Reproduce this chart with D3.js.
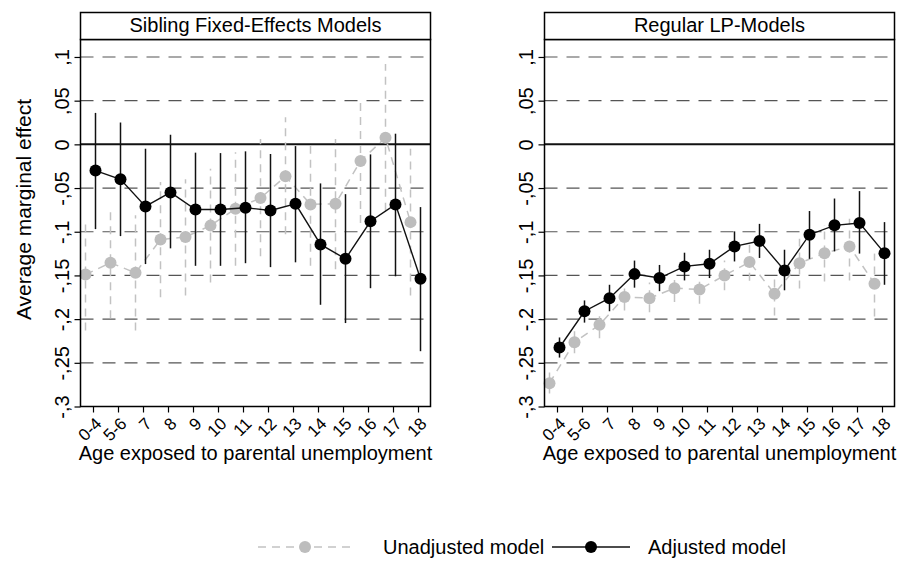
<!DOCTYPE html>
<html>
<head>
<meta charset="utf-8">
<script src="https://cdn.jsdelivr.net/npm/d3@7"></script>
<style>
  body { margin: 0; background: #fff; }
  svg { display: block; font-family: "Liberation Sans", Arial, sans-serif; }
</style>
</head>
<body>
<svg id="chart" width="900" height="587"></svg>
<script>
const categories = ["0-4", "5-6", "7", "8", "9", "10", "11", "12", "13", "14", "15", "16", "17", "18"];
const yTicks = [-0.3, -0.25, -0.2, -0.15, -0.1, -0.05, 0, 0.05, 0.1];
const yTickLabels = ["-,3", "-,25", "-,2", "-,15", "-,1", "-,05", "0", ",05", ",1"];
const panelTitles = ["Sibling Fixed-Effects Models", "Regular LP-Models"];
const seriesNames = ["Unadjusted model", "Adjusted model"];

// sibling fixed-effects, adjusted
const sibAdj   = [-0.030, -0.040, -0.071, -0.055, -0.0745, -0.0745, -0.0725, -0.0756, -0.068, -0.1145, -0.131, -0.088, -0.0687, -0.1538];
const sibAdjLo = [-0.097, -0.105, -0.137, -0.119, -0.139, -0.139, -0.136, -0.1405, -0.135, -0.1836, -0.2045, -0.1646, -0.151, -0.2367];
const sibAdjHi = [0.036, 0.025, -0.005, 0.011, -0.0095, -0.010, -0.008, -0.011, -0.002, -0.0447, -0.057, -0.0115, 0.0122, -0.0718];

// sibling fixed-effects, unadjusted
const sibUnadj   = [-0.149, -0.1355, -0.147, -0.109, -0.106, -0.093, -0.0737, -0.0615, -0.0366, -0.0687, -0.068, -0.019, 0.0077, -0.089];
const sibUnadjLo = [-0.213, -0.199, -0.213, -0.175, -0.173, -0.158, -0.139, -0.128, -0.103, -0.139, -0.143, -0.090, -0.076, -0.173];
const sibUnadjHi = [-0.089, -0.074, -0.081, -0.043, -0.040, -0.028, -0.009, 0.006, 0.031, 0.002, 0.006, 0.052, 0.092, -0.005];

// regular LP, adjusted
const lpAdj   = [-0.2325, -0.191, -0.176, -0.1485, -0.153, -0.1397, -0.1366, -0.1168, -0.1107, -0.1443, -0.1034, -0.0927, -0.090, -0.1245];
const lpAdjLo = [-0.244, -0.204, -0.191, -0.164, -0.168, -0.1557, -0.153, -0.134, -0.130, -0.167, -0.131, -0.1225, -0.125, -0.1607];
const lpAdjHi = [-0.221, -0.1786, -0.1607, -0.133, -0.138, -0.124, -0.1206, -0.0996, -0.091, -0.1206, -0.0763, -0.062, -0.0535, -0.089];

// regular LP, unadjusted
const lpUnadj   = [-0.2733, -0.2264, -0.2065, -0.1748, -0.176, -0.1646, -0.166, -0.150, -0.1347, -0.171, -0.136, -0.1245, -0.1168, -0.1595];
const lpUnadjLo = [-0.285, -0.239, -0.222, -0.190, -0.192, -0.1805, -0.1824, -0.167, -0.156, -0.196, -0.165, -0.157, -0.1557, -0.197];
const lpUnadjHi = [-0.261, -0.214, -0.190, -0.1614, -0.158, -0.150, -0.150, -0.133, -0.112, -0.153, -0.108, -0.0927, -0.085, -0.125];

const toRows = (est, lo, hi) => categories.map((c, i) => ({ cat: c, est: est[i], lo: lo[i], hi: hi[i] }));

const panels = [
  { title: panelTitles[0], left: 80.5, yTitle: true,
    unadj: toRows(sibUnadj, sibUnadjLo, sibUnadjHi), adj: toRows(sibAdj, sibAdjLo, sibAdjHi) },
  { title: panelTitles[1], left: 544.5, yTitle: false,
    unadj: toRows(lpUnadj, lpUnadjLo, lpUnadjHi), adj: toRows(lpAdj, lpAdjLo, lpAdjHi) }
];

const GRAY = "#c2c2c2";
const FONT = "Liberation Sans, Arial, sans-serif";
const barTop = 12.5, plotTop = 39.5, plotBottom = 406.5, plotWidth = 350;

const svg = d3.select("#chart");
const y = d3.scaleLinear().domain([-0.3, 0.12]).range([plotBottom, plotTop]);

const drawSeries = (g, x, rows, offset, style) => {
  const px = (d) => x(d.cat) + offset * x.step();

  g.append("g")
    .selectAll("line")
    .data(rows)
    .enter().append("line")
      .attr("x1", px).attr("x2", px)
      .attr("y1", (d) => y(d.lo)).attr("y2", (d) => y(d.hi))
      .attr("stroke", style.color)
      .attr("stroke-width", style.ciWidth)
      .attr("stroke-dasharray", style.dash);

  g.append("path")
    .datum(rows)
    .attr("fill", "none")
    .attr("stroke", style.color)
    .attr("stroke-width", style.lineWidth)
    .attr("stroke-dasharray", style.dash)
    .attr("d", d3.line().x(px).y((d) => y(d.est)));

  g.append("g")
    .selectAll("circle")
    .data(rows)
    .enter().append("circle")
      .attr("cx", px)
      .attr("cy", (d) => y(d.est))
      .attr("r", 6)
      .attr("fill", style.dot);
};

const drawPanel = (p) => {
  const right = p.left + plotWidth;
  const x = d3.scalePoint().domain(categories).range([p.left, right]).padding(0.5);
  const g = svg.append("g");

  // dashed reference lines
  g.append("g")
    .selectAll("line")
    .data(yTicks.filter((t) => t !== 0 && t !== -0.3))
    .enter().append("line")
      .attr("x1", p.left).attr("x2", right)
      .attr("y1", (d) => y(d)).attr("y2", (d) => y(d))
      .attr("stroke", "#555")
      .attr("stroke-width", 1.2)
      .attr("stroke-dasharray", "13,9");

  g.append("line")
    .attr("x1", p.left).attr("x2", right)
    .attr("y1", y(0)).attr("y2", y(0))
    .attr("stroke", "#111")
    .attr("stroke-width", 2);

  drawSeries(g, x, p.unadj, -0.3, { color: GRAY, dot: "#bdbdbd", dash: "8,6", ciWidth: 1.5, lineWidth: 1.5 });
  drawSeries(g, x, p.adj, 0.1, { color: "#111", dot: "#000", dash: null, ciWidth: 1.5, lineWidth: 1.4 });

  // frame and title bar
  g.append("rect")
    .attr("x", p.left).attr("y", plotTop)
    .attr("width", plotWidth).attr("height", plotBottom - plotTop)
    .attr("fill", "none").attr("stroke", "#000").attr("stroke-width", 1.5);

  g.append("rect")
    .attr("x", p.left).attr("y", barTop)
    .attr("width", plotWidth).attr("height", plotTop - barTop)
    .attr("fill", "#fff").attr("stroke", "#000").attr("stroke-width", 1.5);

  g.append("text")
    .attr("x", p.left + plotWidth / 2).attr("y", 32)
    .attr("text-anchor", "middle")
    .style("font-size", "20px")
    .text(p.title);

  // y axis
  const yAxis = g.append("g")
    .attr("transform", `translate(${p.left},0)`)
    .call(d3.axisLeft(y).tickValues(yTicks).tickFormat((d, i) => yTickLabels[i]).tickSize(6));
  yAxis.select(".domain").remove();
  yAxis.selectAll("line").attr("stroke", "#000").attr("stroke-width", 1.2);
  yAxis.selectAll("text")
    .attr("x", 0).attr("dy", 0)
    .attr("transform", "translate(-12,0) rotate(-90)")
    .attr("text-anchor", "middle")
    .attr("fill", "#000")
    .style("font-size", "20px")
    .style("font-family", FONT);

  // x axis
  const xAxis = g.append("g")
    .attr("transform", `translate(0,${plotBottom})`)
    .call(d3.axisBottom(x).tickSize(6));
  xAxis.select(".domain").remove();
  xAxis.selectAll("line").attr("stroke", "#000").attr("stroke-width", 1.2);
  xAxis.selectAll("text")
    .attr("x", 0).attr("y", 0).attr("dy", "0.35em")
    .attr("transform", "translate(5,14) rotate(-45)")
    .attr("text-anchor", "end")
    .attr("fill", "#000")
    .style("font-size", "17px")
    .style("font-family", FONT);

  g.append("text")
    .attr("x", p.left + plotWidth / 2).attr("y", 460)
    .attr("text-anchor", "middle")
    .style("font-size", "20px")
    .text("Age exposed to parental unemployment");

  if (p.yTitle) {
    g.append("text")
      .attr("transform", `translate(31,${(barTop + plotBottom) / 2}) rotate(-90)`)
      .attr("text-anchor", "middle")
      .style("font-size", "21px")
      .text("Average marginal effect");
  }
};

panels.forEach(drawPanel);

// legend
const legendY = 547;
const legendItems = [
  { name: seriesNames[0], x0: 258, keyWidth: 94, textX: 125, color: GRAY, dot: "#bdbdbd", dash: "8,6" },
  { name: seriesNames[1], x0: 552, keyWidth: 78, textX: 96, color: "#111", dot: "#000", dash: null }
];
const legend = svg.append("g")
  .selectAll("g")
  .data(legendItems)
  .enter().append("g")
    .attr("transform", (d) => `translate(${d.x0},${legendY})`);

legend.append("line")
  .attr("x1", 0).attr("x2", (d) => d.keyWidth)
  .attr("stroke", (d) => d.color)
  .attr("stroke-width", 1.5)
  .attr("stroke-dasharray", (d) => d.dash);
legend.append("circle")
  .attr("cx", (d) => d.keyWidth / 2).attr("r", 6)
  .attr("fill", (d) => d.dot);
legend.append("text")
  .attr("x", (d) => d.textX).attr("y", 7)
  .style("font-size", "20px")
  .text((d) => d.name);
</script>
</body>
</html>
